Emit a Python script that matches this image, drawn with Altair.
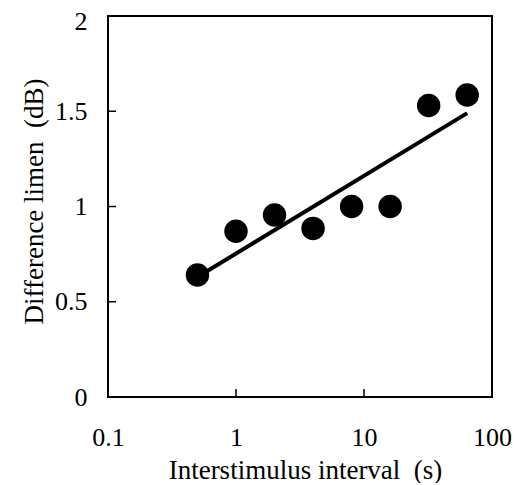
import altair as alt
import pandas as pd

# data
isi = [0.5, 1, 2, 4, 8, 16, 32, 64]
dl = [0.64, 0.87, 0.955, 0.885, 1.0, 1.0, 1.53, 1.585]
fit_x = [0.5, 64]
fit_y = [0.63, 1.49]
x_tick_vals = [1, 10]
y_tick_vals = [0.5, 1, 1.5]
x_label_vals = [0.1, 1, 10, 100]
y_label_vals = [0, 0.5, 1, 1.5, 2]

W, H = 384, 381
FONT = "Liberation Serif"

pts = pd.DataFrame({"isi": isi, "dl": dl})
fit = pd.DataFrame({"isi": fit_x, "dl": fit_y})
xt = pd.DataFrame({"isi": x_tick_vals})
yt = pd.DataFrame({"dl": y_tick_vals})

xscale = alt.Scale(type="log", domain=[0.1, 100])
yscale = alt.Scale(domain=[0, 2], nice=False, zero=False)

xaxis = alt.Axis(
    values=x_label_vals, format="~g", title="Interstimulus interval\u00a0 (s)",
    labelFlush=False, labelOverlap=False, labelBaseline="alphabetic", labelPadding=48,
    titleX=197, titleY=81, titleAlign="center", titleBaseline="alphabetic",
)
yaxis = alt.Axis(
    values=y_label_vals, format="~g", title="Difference limen\u00a0 (dB)",
    labelFlush=False, labelOverlap=False, labelPadding=21,
    labelOffset={"condition": {"test": "datum.value == 2", "value": 5}, "value": 0},
    titleX=-66, titleY=185, titleAngle=270, titleAlign="center", titleBaseline="alphabetic",
)

X = alt.X("isi:Q", scale=xscale, axis=xaxis)
Y = alt.Y("dl:Q", scale=yscale, axis=yaxis)

line = alt.Chart(fit).mark_line(color="black", strokeWidth=4).encode(x=X, y=Y)
points = alt.Chart(pts).mark_circle(color="black", opacity=1, size=550).encode(x=X, y=Y)
yticks = alt.Chart(yt).mark_rule(color="black", strokeWidth=1.5).encode(
    y=Y, x=alt.value(0), x2=alt.value(8),
)
xticks = alt.Chart(xt).mark_rule(color="black", strokeWidth=1.5).encode(
    x=X, y=alt.value(H), y2=alt.value(H - 8),
)

chart = (
    alt.layer(line, points, yticks, xticks)
    .properties(
        width=W, height=H,
        autosize=alt.AutoSizeParams(type="none"),
        padding={"left": 100, "top": 8, "right": 20, "bottom": 86},
        background="white",
    )
    .configure_view(stroke="black", strokeWidth=2)
    .configure_axis(
        domain=False, grid=False, ticks=False, tickSize=0,
        labelFont=FONT, labelFontSize=26, labelColor="black",
        titleFont=FONT, titleFontSize=27, titleFontWeight="normal", titleColor="black",
    )
)

chart.save("out.html", embed_options={"renderer": "svg", "actions": False})
